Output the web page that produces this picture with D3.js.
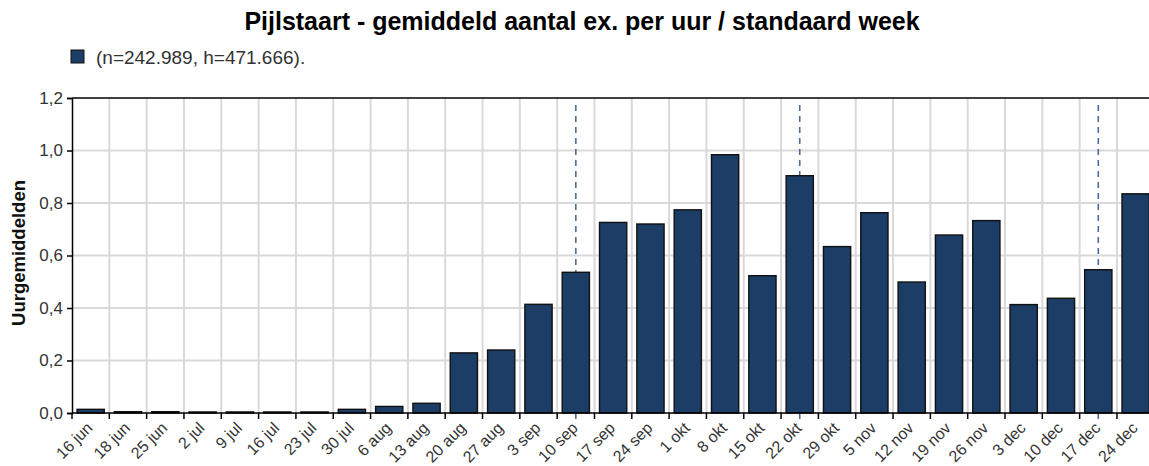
<!DOCTYPE html>
<html><head><meta charset="utf-8">
<script src="https://cdn.jsdelivr.net/npm/d3@7"></script>
<style>
html,body{margin:0;padding:0;background:#fff;overflow:hidden;}
svg{display:block;font-family:"Liberation Sans",Arial,sans-serif;}
</style></head><body>
<svg id="c" width="1149" height="466"></svg>
<script>
const categories = ["16 jun","18 jun","25 jun","2 jul","9 jul","16 jul","23 jul","30 jul","6 aug","13 aug","20 aug","27 aug","3 sep","10 sep","17 sep","24 sep","1 okt","8 okt","15 okt","22 okt","29 okt","5 nov","12 nov","19 nov","26 nov","3 dec","10 dec","17 dec","24 dec"];
const values = [0.014,0.005,0.005,0.004,0.004,0.004,0.004,0.014,0.025,0.037,0.229,0.240,0.414,0.536,0.726,0.720,0.774,0.984,0.523,0.904,0.634,0.763,0.499,0.678,0.733,0.413,0.437,0.546,0.835];
const markers = ["10 sep","22 okt","17 dec"];
const yTicks = [0,0.2,0.4,0.6,0.8,1.0,1.2];
const title = "Pijlstaart - gemiddeld aantal ex. per uur / standaard week";
const legendLabel = "(n=242.989, h=471.666).";
const yTitle = "Uurgemiddelden";

const svg = d3.select("#c");
const m = {left:72, top:98, bottom:413};
const plotRight = 72 + 29*37.32;
const x = d3.scaleBand().domain(categories).range([m.left, plotRight]).paddingInner(0.27).paddingOuter(0.135);
const xb = d3.scaleBand().domain(categories).range([m.left, plotRight]).padding(0);
const y = d3.scaleLinear().domain([0,1.2]).range([m.bottom, m.top]);
const fmt = d => d3.format(".1f")(d).replace(".", ",");

// grid
const g = svg.append("g");
g.selectAll("line.h").data(yTicks.slice(1,-1)).join("line")
  .attr("x1", m.left).attr("x2", plotRight).attr("y1", d=>y(d)).attr("y2", d=>y(d))
  .attr("stroke","#d9d9d9").attr("stroke-width",2);
g.selectAll("line.v").data(categories.slice(1)).join("line")
  .attr("x1", d=>xb(d)).attr("x2", d=>xb(d)).attr("y1", m.top).attr("y2", m.bottom)
  .attr("stroke","#d9d9d9").attr("stroke-width",2);

// marker dashed lines
svg.append("g").selectAll("line").data(markers).join("line")
  .attr("x1", d=>xb(d)+xb.bandwidth()/2).attr("x2", d=>xb(d)+xb.bandwidth()/2)
  .attr("y1", m.top+7).attr("y2", m.bottom+7)
  .attr("stroke","#4a6d9a").attr("stroke-width",1.6).attr("stroke-dasharray","6,5");

// bars
svg.append("g").selectAll("rect").data(categories).join("rect")
  .attr("x", d=>x(d)).attr("width", x.bandwidth())
  .attr("y", (d,i)=>y(values[i])).attr("height", (d,i)=>y(0)-y(values[i]))
  .attr("fill","#1c3d66").attr("stroke","#111").attr("stroke-width",1.4);

// top border
svg.append("line").attr("x1", m.left).attr("x2", plotRight).attr("y1", m.top).attr("y2", m.top)
  .attr("stroke","#000").attr("stroke-width",1.5);

// y axis
const ya = svg.append("g").attr("transform",`translate(${m.left},0)`)
  .call(d3.axisLeft(y).tickValues(yTicks).tickFormat(fmt).tickSize(5).tickPadding(4));
ya.select(".domain").attr("stroke","#000").attr("stroke-width",1.5);
ya.selectAll(".tick line").attr("stroke","#000").attr("stroke-width",1.5);
ya.selectAll("text").attr("font-size",17).attr("fill","#333").attr("font-family","Liberation Sans, Arial, sans-serif");

// x axis: ticks at band boundaries
const xa = svg.append("g").attr("transform",`translate(0,${m.bottom})`);
xa.append("line").attr("x1", m.left).attr("x2", plotRight).attr("stroke","#000").attr("stroke-width",1.5);
xa.selectAll("line.t").data(categories).join("line").attr("class","t")
  .attr("x1", d=>xb(d)).attr("x2", d=>xb(d)).attr("y1",0).attr("y2",6)
  .attr("stroke","#000").attr("stroke-width",1.5);
xa.selectAll("text").data(categories).join("text")
  .attr("transform", d=>`translate(${xb(d)+xb.bandwidth()/2+3},${16}) rotate(-45)`)
  .attr("text-anchor","end").attr("font-size",16).attr("fill","#333")
  .text(d=>d);

// title
svg.append("text").attr("x",582).attr("y",30).attr("text-anchor","middle")
  .attr("font-size",25).attr("font-weight","bold").attr("fill","#000").text(title);

// legend
svg.append("rect").attr("x",71).attr("y",50).attr("width",13).attr("height",13)
  .attr("fill","#1c3d66").attr("stroke","#111").attr("stroke-width",1);
svg.append("text").attr("x",96).attr("y",64).attr("font-size",19).attr("fill","#333").text(legendLabel);

// y title
svg.append("text").attr("transform","translate(25,253) rotate(-90)").attr("text-anchor","middle")
  .attr("font-size",18.5).attr("font-weight","bold").attr("fill","#111").text(yTitle);
</script>
</body></html>
